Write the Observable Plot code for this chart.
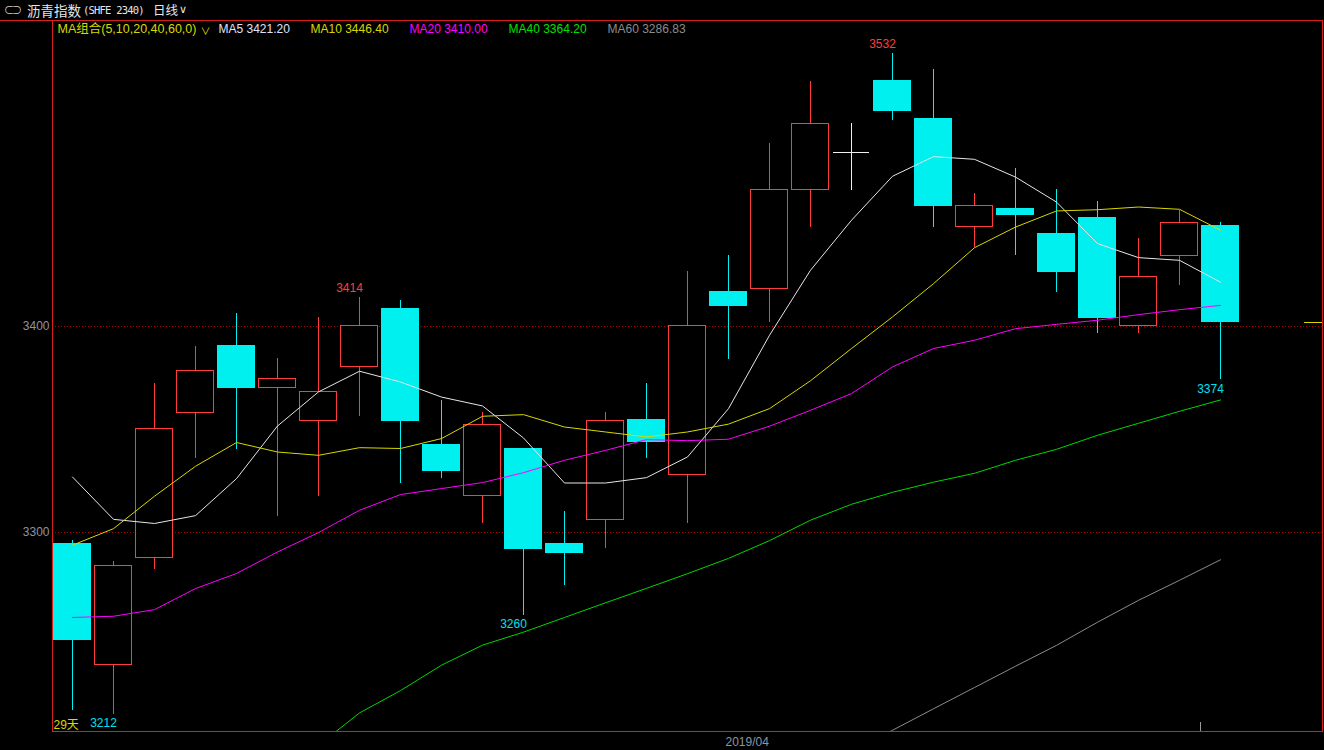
<!DOCTYPE html>
<html><head><meta charset="utf-8">
<script src="https://cdn.jsdelivr.net/npm/d3@7"></script>
<script src="https://cdn.jsdelivr.net/npm/@observablehq/plot@0.6"></script>
<style>
body{margin:0;background:#000;}
#wrap{position:relative;width:1324px;height:750px;overflow:hidden;background:#000}
#hdr{position:absolute;left:0;top:0;width:1324px;height:20px;z-index:2;color:#e6e6e6;font-family:'Noto Sans CJK SC',sans-serif;}
#hdr span{position:absolute;top:0;line-height:20px;white-space:nowrap}
#hdrline{position:absolute;left:0;top:20px;width:53px;height:1px;background:#d82020;z-index:2}
#chart{position:absolute;left:0;top:0}
</style>
</head><body>
<div id="wrap">
  <div id="hdr">
    <span style="left:4px;font-size:10px;color:#cfcfcf;letter-spacing:-2px">⊂⊃</span>
    <span style="left:27px;font-size:13.5px">沥青指数</span>
    <span style="left:83px;font-size:10.5px;letter-spacing:-0.8px;font-family:'DejaVu Sans Mono',monospace">(SHFE 2340)</span>
    <span style="left:153px;font-size:12.5px">日线</span>
    <span style="left:179px;font-size:11px;font-family:'DejaVu Sans'">∨</span>
  </div>
  <div id="hdrline"></div>
  <div id="chart"></div>
</div>
<script>
// ---- data (29 daily candles) ----
const open  = [3294.3, 3236.1, 3287.9, 3358.1, 3390.2, 3370.2, 3354.2, 3380.3, 3408.1, 3342.3, 3317.9, 3340.3, 3294.3, 3306.3, 3354.4, 3328.1, 3416.3, 3418.1, 3466.0, 3483.9, 3518.4, 3500.0, 3448.1, 3456.5, 3444.4, 3452.1, 3400.2, 3434.1, 3448.3];
const close = [3248.2, 3284.0, 3350.3, 3378.1, 3370.0, 3374.2, 3368.2, 3400.2, 3354.0, 3329.8, 3352.3, 3292.1, 3290.1, 3354.2, 3343.9, 3400.2, 3409.7, 3466.0, 3498.0, 3483.9, 3504.1, 3458.1, 3458.3, 3453.7, 3426.1, 3403.9, 3423.9, 3450.0, 3401.9];
const high  = [3296.3, 3286.0, 3372.1, 3390.2, 3406.1, 3384.4, 3404.2, 3414, 3412.4, 3364.0, 3358.1, 3340.3, 3310.3, 3358.1, 3372.3, 3426.5, 3434.2, 3488.3, 3518.4, 3498.0, 3532, 3524.2, 3464.1, 3476.2, 3466.0, 3460.4, 3442.3, 3456.0, 3450.2];
const low   = [3214, 3212, 3282.1, 3336.1, 3340.2, 3308.0, 3317.7, 3356.0, 3324.0, 3326.0, 3304.4, 3260, 3274.2, 3292.1, 3336.1, 3304.4, 3384.0, 3401.9, 3447.9, 3465.8, 3499.6, 3447.9, 3437.9, 3433.9, 3416.0, 3396.3, 3396.3, 3419.8, 3374];

const ma5  = [3326.9, 3306.4, 3304.4, 3308.2, 3326.1, 3351.6, 3368.1, 3378.1, 3372.9, 3365.6, 3361.3, 3345.8, 3324.0, 3324.0, 3326.6, 3336.6, 3360.0, 3395.5, 3427.0, 3451.2, 3472.5, 3482.0, 3480.7, 3472.1, 3460.0, 3439.9, 3433.1, 3431.8, 3421.2];
const ma10 = [3293.9, 3301.9, 3317.6, 3332.1, 3343.6, 3339.0, 3337.4, 3341.1, 3340.7, 3345.5, 3356.3, 3357.1, 3351.1, 3348.7, 3346.3, 3348.7, 3352.5, 3360.0, 3373.5, 3389.1, 3404.4, 3420.5, 3437.9, 3447.9, 3455.7, 3456.3, 3457.6, 3456.5, 3446.4];
const ma20 = [3258.9, 3259.5, 3262.7, 3272.9, 3280.2, 3290.6, 3300.0, 3310.8, 3318.4, 3321.3, 3324.2, 3329.0, 3335.0, 3339.8, 3345.0, 3344.5, 3345.2, 3351.5, 3359.2, 3367.3, 3380.2, 3389.1, 3393.1, 3398.7, 3400.8, 3402.8, 3405.5, 3407.9, 3410.0];
const ma40 = [null, null, null, null, null, null, 3197.0, 3212.7, 3223.5, 3235.8, 3245.5, 3251.8, 3258.9, 3266.0, 3273.0, 3280.1, 3287.5, 3296.1, 3306.0, 3313.7, 3319.5, 3324.4, 3328.7, 3335.0, 3340.3, 3347.1, 3352.9, 3358.7, 3364.2];
const ma60 = [null, null, null, null, null, null, null, null, null, null, null, null, null, null, null, null, null, null, null, 3194.0, 3204.3, 3214.7, 3225.0, 3235.3, 3245.4, 3256.6, 3267.2, 3276.9, 3286.83];

const yTicks = [3300, 3400];
const legendLabels = ["MA组合(5,10,20,40,60,0)", "MA5 3421.20", "MA10 3446.40", "MA20 3410.00", "MA40 3364.20", "MA60 3286.83"];
const hiMarks = [7, 20];        // candle indices whose high is annotated
const loMarks = [1, 11, 28];    // candle indices whose low is annotated
const dayCountLabel = "29天";
const monthLabel = "2019/04";
const monthIndex = 16;
const dividerIndex = [27.5];

// ---- styling ----
const RED = "#ff3d3d", CYAN = "#00f0f0", WHITE = "#f0f0f0";
const FRAME = "#d82020";
const legendColors = ["#d8d800", "#e0e0ff", "#d8d800", "#ff00ff", "#00e000", "#8c8c8c"];
const legendDx = [5, 166, 258, 357, 456, 555];
const maStyles = [
  {vals: ma5,  stroke: "#e6e6e6"},
  {vals: ma10, stroke: "#d8d800"},
  {vals: ma20, stroke: "#ff00ff"},
  {vals: ma40, stroke: "#00d800"},
  {vals: ma60, stroke: "#8c8c8c"}
];

const candles = open.map((o, i) => ({i, open: o, close: close[i], high: high[i], low: low[i]}));
const colorOf = d => d.close > d.open ? RED : d.close < d.open ? CYAN : WHITE;
const HW = 0.445;

const marks = [
  Plot.ruleY(yTicks, {stroke: "#b00000", strokeDasharray: "1,2", shapeRendering: "crispEdges"}),
  Plot.ruleX(candles, {x: "i", y1: "low", y2: "high", stroke: colorOf, shapeRendering: "crispEdges"}),
  Plot.rect(candles.filter(d => d.open !== d.close), {
    x1: d => d.i - HW, x2: d => d.i + HW, y1: "open", y2: "close",
    fill: d => d.close > d.open ? "#000" : CYAN,
    stroke: d => d.close > d.open ? RED : CYAN,
    shapeRendering: "crispEdges"
  }),
  Plot.ruleY(candles.filter(d => d.open === d.close), {
    y: "close", x1: d => d.i - HW, x2: d => d.i + HW, stroke: WHITE, shapeRendering: "crispEdges"
  }),
  ...maStyles.map(s => Plot.line(candles, {x: "i", y: d => s.vals[d.i], stroke: s.stroke, strokeWidth: 1, clip: true})),
  // last price marker on right
  Plot.ruleY([close[close.length - 1]], {stroke: "#d8d800", insetLeft: 1252, strokeWidth: 1, shapeRendering: "crispEdges"}),
  // divider tick at bottom
  Plot.ruleX(dividerIndex, {stroke: "#9a9a9a", insetTop: 702, shapeRendering: "crispEdges"}),
  // annotations of highs/lows
  Plot.text(hiMarks, {x: d => d, y: d => high[d], text: d => String(Math.round(high[d])), fill: RED, dx: -10, dy: -9}),
  Plot.text(loMarks, {x: d => d, y: d => low[d], text: d => String(Math.round(low[d])), fill: "#00e0f0", dx: -10, dy: 9}),
  // y tick labels
  Plot.text(yTicks, {y: d => d, frameAnchor: "left", textAnchor: "end", dx: -3, fill: "#8a96a3", text: d => String(d)}),
  // month label
  Plot.text([monthLabel], {x: monthIndex, frameAnchor: "bottom", textAnchor: "start", dx: -3, dy: 14, fill: "#8a96a3", text: d => d}),
  // day count
  Plot.text([dayCountLabel], {frameAnchor: "bottom-left", textAnchor: "start", dx: 1, dy: -3, fill: "#d8d800", text: d => d}),
  // legend
  ...legendLabels.map((t, k) => Plot.text([t], {frameAnchor: "top-left", textAnchor: "start", dx: legendDx[k], dy: 4, fill: legendColors[k], fontSize: k === 0 ? 12.5 : 12, text: d => d})),
  Plot.text(["∨"], {frameAnchor: "top-left", textAnchor: "start", dx: 148, dy: 7, fill: "#d8d800", fontSize: 10, text: d => d}),
  Plot.frame({stroke: FRAME, shapeRendering: "crispEdges"})
];

const chart = Plot.plot({
  width: 1324,
  height: 750,
  marginLeft: 52,
  marginRight: 2,
  marginTop: 20,
  marginBottom: 19,
  x: {type: "linear", domain: [-20 / 41, 30.4878], axis: null},
  y: {type: "linear", domain: [3203.7, 3547.9], axis: null},
  style: {background: "#000", color: "#8a96a3", fontFamily: "'Liberation Sans', Arial, 'Noto Sans CJK SC', sans-serif", fontSize: "12px", overflow: "visible"},
  marks
});
document.getElementById("chart").appendChild(chart);
</script>
</body></html>
